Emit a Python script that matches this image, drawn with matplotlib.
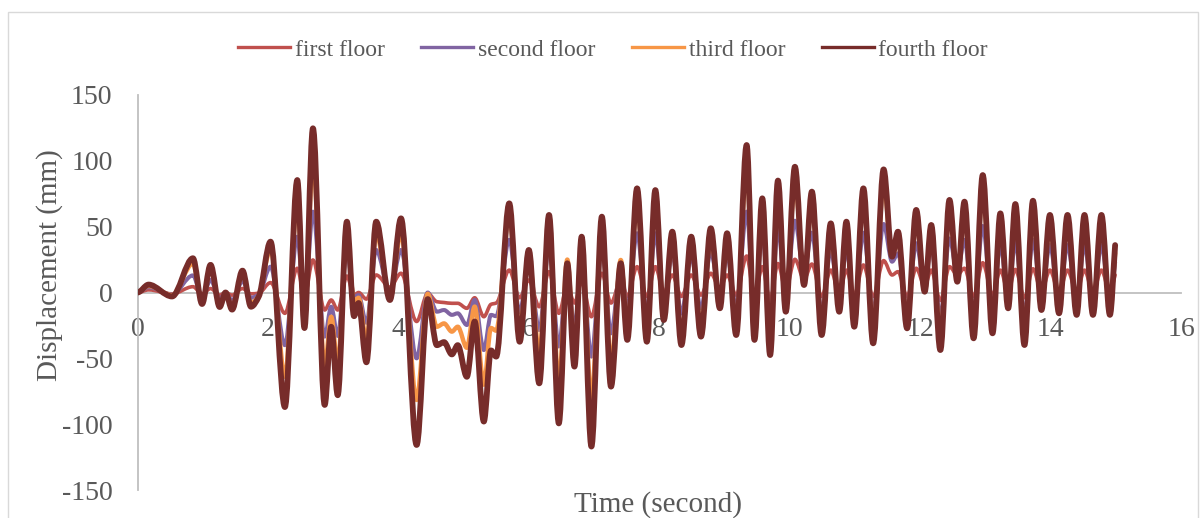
import numpy as np
import matplotlib
matplotlib.use('Agg')
import matplotlib.pyplot as plt
from matplotlib.path import Path
from matplotlib.patches import PathPatch, Rectangle
from matplotlib.lines import Line2D

# ---------------- data ----------------
time_s = [0.00, 0.17, 0.53, 0.85, 0.99, 1.12, 1.26, 1.35, 1.45, 1.61, 1.74, 1.86,
          2.04, 2.26, 2.45, 2.56, 2.69, 2.87, 2.97, 3.07, 3.21, 3.32, 3.39, 3.51,
          3.66, 3.87, 4.04, 4.28, 4.45, 4.59, 4.70, 4.82, 4.91, 5.05, 5.17, 5.31,
          5.42, 5.50, 5.70, 5.86, 6.00, 6.16, 6.31, 6.46, 6.59, 6.70, 6.81, 6.96,
          7.12, 7.26, 7.41, 7.51, 7.66, 7.81, 7.94, 8.07, 8.20, 8.34, 8.49, 8.64,
          8.79, 8.93, 9.04, 9.18, 9.34, 9.46, 9.58, 9.70, 9.82, 9.94, 10.08, 10.22,
          10.34, 10.49, 10.63, 10.76, 10.87, 10.99, 11.13, 11.28, 11.44, 11.57, 11.66, 11.80,
          11.94, 12.07, 12.17, 12.31, 12.45, 12.57, 12.68, 12.82, 12.96, 13.11, 13.23, 13.35,
          13.46, 13.60, 13.73, 13.86, 13.99, 14.13, 14.26, 14.40, 14.52, 14.65, 14.78, 14.91,
          14.99]

first_floor = [0, 2, -1, 4.4, -1, 3, -2, 0, -2, 3, -1, -0.5,
               7.5, -15.8, 18.4, -3, 24.7, -13.3, -5.7, -13.3, 12.5, -2, 0, -5,
               13.3, 4, 14.6, -22, -0.6, -7, -7.6, -8.2, -8.2, -12, -4, -18.4,
               -9, -8, 17, -4, 9.5, -10.8, 15.8, -15.8, 5, -8, 8, -18.4,
               14.6, -8, 9.5, -3, 19.6, -3, 19.6, 0, 13.3, -3, 13.3, -2,
               14.6, 3, 13.3, -2, 27.7, -3, 19.6, -6, 22, 2, 25.2, 10,
               21.6, -3, 17, 0, 17, -2, 20.9, -3, 24.2, 13.3, 15.8, -3,
               18.4, 5, 17, -6, 19.6, 13.3, 18.4, -3, 22.6, -2, 17, 1,
               17.5, -4, 18, 1, 17, 0, 17, 0, 17, 0, 17, 0,
               13.3]

second_floor = [0, 4, -1.5, 13, -4, 9.5, -5, 0, -6, 8.5, -4, -1.5,
                19.6, -40, 42.4, -12, 61.4, -33.5, -10.8, -33, 32.3, -3, -2, -23,
                32.3, 0, 32.3, -50, 0, -14.6, -13.3, -17, -15.8, -24.7, -5.6, -43.7,
                -17, -18, 40, -15, 22, -28.5, 34.8, -41, 15, -27, 22, -48.7,
                34.8, -31, 19.6, -12, 45, -15, 45, -8, 29.7, -16, 27, -12,
                31, -2, 28.5, -12, 61.4, -14, 45, -20, 48.8, -3, 54.5, 15,
                45.4, -14, 32.3, -5, 33, -10, 45.4, -14, 52, 23.4, 29.7, -12,
                37.4, 5, 34.8, -18, 41, 15, 40, -14, 50.5, -12, 36, -3,
                38, -16, 40, -3, 36, -5, 36, -5, 36, -5, 36, -5,
                23]

third_floor = [0, 5, -2, 22, -7, 18, -9, 0, -11, 14, -8, -2.5,
               33, -64, 70, -20, 100, -56, -18.4, -54, 45, -7, -4, -36,
               45, -3, 45, -81.6, -1, -26, -23.5, -29.7, -26, -42, -10.7, -70,
               -27, -29, 60, -28, 28, -46, 50, -69, 25, -43, 35, -81.6,
               50, -53.8, 24.7, -25, 70, -30, 70, -15, 40, -32, 38, -26,
               42, -8, 40, -25, 97, -28, 62, -37, 75, -8, 85, 10,
               68, -25, 45, -10, 46, -18, 70, -28, 83, 27, 40, -20,
               55, 3, 45, -32, 62, 12, 60, -25, 80, -22, 52, -8,
               58, -28, 60, -8, 52, -10, 52, -11, 52, -11, 52, -11,
               30]

fourth_floor = [0, 6, -3, 26, -8.7, 21, -11, 0, -13, 16.6, -10.8, -3,
                38.6, -87, 85.4, -27, 124.7, -85.4, -26, -78, 53.8, -18, -8, -53,
                53.8, -5.7, 56.3, -115.8, -5, -40, -37.7, -47, -40, -64, -22, -98,
                -44, -48.7, 67.7, -37.4, 32.3, -69, 58.9, -99.4, 22.2, -56.3, 42.4, -117,
                57.6, -71.5, 22.2, -36, 79.1, -37.4, 77.8, -20.9, 46.2, -39.9, 42.4, -33.5,
                48.8, -12, 45, -32.3, 112, -36, 71.5, -47.5, 85, -14.6, 95.5, 5.7,
                76.6, -32.3, 52.5, -14.6, 53.8, -26, 79.1, -38.6, 93.5, 27.2, 46.2, -27.2,
                62.7, 0.6, 51.3, -43.7, 70.3, 8.2, 69, -34.8, 89.2, -31, 60.1, -12,
                67.2, -39.9, 69.7, -13.3, 58.9, -15.8, 58.9, -17, 58.9, -17, 58.9, -17,
                36]

series_names = ['first floor', 'second floor', 'third floor', 'fourth floor']
x_ticks = [0, 2, 4, 6, 8, 10, 12, 14, 16]
y_ticks = [-150, -100, -50, 0, 50, 100, 150]

# ---------------- style ----------------
colors = ['#C0504D', '#8064A2', '#F79646', '#772C2A']
widths = [2.6, 2.9, 3.2, 4.2]
text_color = '#595959'
axis_color = '#BFBFBF'
serif = ['Liberation Serif', 'DejaVu Serif']


def smooth_path(x, y):
    """Smoothed line (like a spreadsheet 'smoothed line') through the points,
    built as cubic Bezier segments with shape-preserving tangents."""
    x = np.asarray(x, float)
    y = np.asarray(y, float)
    h = np.diff(x)
    delta = np.diff(y) / h
    n = len(x)
    d = np.zeros(n)
    for i in range(1, n - 1):
        if delta[i - 1] * delta[i] > 0:
            w1 = 2 * h[i] + h[i - 1]
            w2 = h[i] + 2 * h[i - 1]
            d[i] = (w1 + w2) / (w1 / delta[i - 1] + w2 / delta[i])
    d[0] = 0.0
    d[-1] = delta[-1]
    verts = [(x[0], y[0])]
    codes = [Path.MOVETO]
    for i in range(n - 1):
        verts += [(x[i] + h[i] / 3, y[i] + d[i] * h[i] / 3),
                  (x[i + 1] - h[i] / 3, y[i + 1] - d[i + 1] * h[i] / 3),
                  (x[i + 1], y[i + 1])]
        codes += [Path.CURVE4] * 3
    return Path(verts, codes)


fig = plt.figure(figsize=(12.04, 5.18), dpi=100)
ax = fig.add_axes([137.5 / 1204, 1 - 490 / 518, (1181 - 137.5) / 1204, (490 - 95) / 518])

all_series = [first_floor, second_floor, third_floor, fourth_floor]
for vals, c, w, z in zip(all_series, colors, widths, range(4)):
    patch = PathPatch(smooth_path(time_s, vals), fill=False, edgecolor=c,
                      linewidth=w, capstyle='round', joinstyle='round', zorder=3 + z)
    ax.add_patch(patch)

ax.set_xlim(0, 16)
ax.set_ylim(-150, 150)
ax.set_xticks(x_ticks)
ax.set_yticks(y_ticks)
ax.set_xticklabels([str(v) for v in x_ticks])
ax.set_yticklabels([str(v) for v in y_ticks])

for s in ['top', 'right']:
    ax.spines[s].set_visible(False)
ax.spines['left'].set_color(axis_color)
ax.spines['left'].set_linewidth(1.3)
ax.spines['bottom'].set_color(axis_color)
ax.spines['bottom'].set_linewidth(1.3)
ax.spines['bottom'].set_position(('data', 0))
ax.spines['bottom'].set_zorder(2)

ax.tick_params(axis='both', length=0, labelcolor=text_color, labelsize=20)
ax.tick_params(axis='x', pad=18)
ax.tick_params(axis='y', pad=18)
for lab in ax.get_xticklabels() + ax.get_yticklabels():
    lab.set_family(serif)

fig.text(658 / 1204, 1 - 505 / 518, 'Time (second)', ha='center', va='center',
         fontsize=21, color=text_color, family=serif)
fig.text(50 / 1204, 1 - 265 / 518, 'Displacement (mm)', ha='center', va='center',
         rotation=90, fontsize=21, color=text_color, family=serif)

handles = [Line2D([0], [0], color=c, lw=2.4) for c in colors]
leg = fig.legend(handles, series_names, loc='center', bbox_to_anchor=(613 / 1204, 1 - 50 / 518),
                 ncol=4, frameon=False, handlelength=2.2, handletextpad=0.2,
                 columnspacing=1.55, prop={'family': serif, 'size': 17})
for t in leg.get_texts():
    t.set_color(text_color)

fig.patches.append(Rectangle((8 / 1204, -0.1), (1198 - 8) / 1204, 1.1 - 12 / 518,
                             transform=fig.transFigure, fill=False,
                             edgecolor='#D9D9D9', linewidth=1.0, zorder=0))

fig.savefig('out.png', dpi=100)
